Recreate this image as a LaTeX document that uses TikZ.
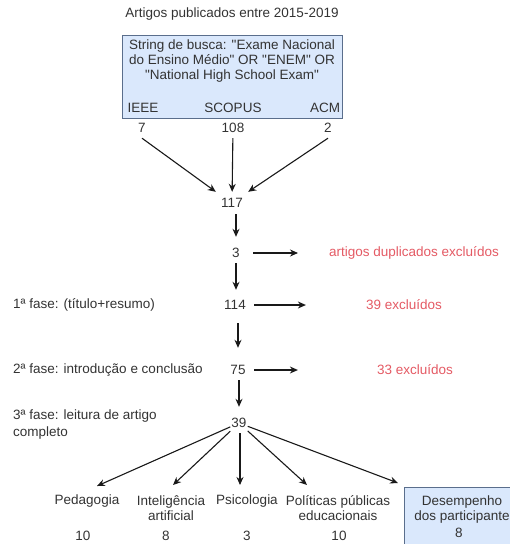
\documentclass[tikz,border=0pt]{standalone}
\usepackage{fontspec}
\newfontfamily\plainsans{Liberation Sans}
\usetikzlibrary{arrows.meta}
\definecolor{txt}{HTML}{333333}
\definecolor{redx}{RGB}{228,90,100}
\definecolor{boxfill}{HTML}{DAE8FC}
\definecolor{boxline}{RGB}{90,110,140}
\begin{document}
\begin{tikzpicture}[x=1pt,y=-1pt,
  every node/.style={font=\plainsans\fontsize{13.5}{15}\selectfont, text=txt, inner sep=1pt},
  num/.style={minimum height=20pt, minimum width=16pt},
  redlbl/.style={text=redx},
  arr/.style={draw=black!90, line width=1.1pt, -{Stealth[length=8pt,width=7pt]}},
  bluebox/.style={fill=boxfill, draw=boxline, line width=0.8pt}]
\useasboundingbox (0,0) rectangle (510,544);
\clip (0,0) rectangle (510,544);

% header
\node (title) at (232,14) {Artigos publicados entre 2015-2019};
\node[bluebox, minimum width=220pt, minimum height=83pt] (src) at (232,76.5) {};
\node[align=center] (query) at (232,61) {String de busca: "Exame Nacional\\do Ensino Médio" OR "ENEM" OR\\"National High School Exam"};
\node (ieee) at (143,108) {IEEE};
\node (scopus) at (233,108) {SCOPUS};
\node (acm) at (325,108) {ACM};
\node[num] (n7) at (142,128) {7};
\node[num] (n108) at (233,128) {108};
\node[num] (n2) at (328,128) {2};

% main chain
\node[num, minimum width=32pt, minimum height=22pt] (n117) at (232,203) {117};
\node[num] (n3) at (236,253) {3};
\node[num] (n114) at (235,305) {114};
\node[num] (n75) at (238,370) {75};
\node[num] (n39) at (239,423) {39};

\draw[arr] (n7.south) -- (n117.north west);
\draw[arr] (n108) -- (n117);
\draw[arr] (n2.south) -- (n117.north east);
\draw[arr, shorten >=6pt] (n3.north |- n117.south) -- (n3.north);
\draw[arr, shorten >=5pt] (n3.south) -- (n3.south |- n114.north);
\draw[arr, shorten <=8pt, shorten >=12pt] (n75.north |- n114.south) -- (n75.north);
\draw[arr, shorten >=6pt] (n75.south -| n39) -- (n39.north);

% exclusions
\node[redlbl] (dup) at (414,253) {artigos duplicados excluídos};
\node[redlbl] (ex39) at (404,305) {39 excluídos};
\node[redlbl] (ex33) at (415,370) {33 excluídos};
\draw[arr, shorten <=9pt, shorten >=30pt] (n3) -- (dup);
\draw[arr, shorten <=7.5pt, shorten >=59pt] (n114) -- (ex39);
\draw[arr, shorten <=7.5pt, shorten >=78pt] (n75) -- (ex33);

% phases
\node[anchor=west] (f1) at (12,305) {1ª fase: (título+resumo)};
\node[anchor=west] (f2) at (12,370) {2ª fase: introdução e conclusão};
\node[anchor=west, align=left, font=\plainsans\fontsize{13.5}{17}\selectfont] (f3) at (12,424.5) {3ª fase: leitura de artigo\\completo};

% categories
\node (ped) at (87,501) {Pedagogia};
\node[align=center] (ia) at (171,508.5) {Inteligência\\artificial};
\node (psi) at (247,501) {Psicologia};
\node[align=center] (pol) at (338,508.5) {Políticas públicas\\educacionais};
\node[bluebox, anchor=north west, minimum width=120pt, minimum height=70pt] (desbox) at (404,487) {};
\node[align=center] (des) at (462,509.5) {Desempenho\\dos participante};

\node (nped) at (83,536) {10};
\node (nia) at (166,536) {8};
\node (npsi) at (247,536) {3};
\node (npol) at (339,536) {10};
\node (ndes) at (459,533) {8};

\coordinate (tped) at (97,486);
\coordinate (tia) at (173,485);
\coordinate (tpsi) at (240,485);
\coordinate (tpol) at (307,485);
\coordinate (tdes) at (398,483);
\draw[arr] (n39) -- (tped);
\draw[arr] (n39) -- (tia);
\draw[arr] (n39.south -| tpsi) -- (tpsi);
\draw[arr] (n39) -- (tpol);
\draw[arr] (n39) -- (tdes);
\end{tikzpicture}
\end{document}
